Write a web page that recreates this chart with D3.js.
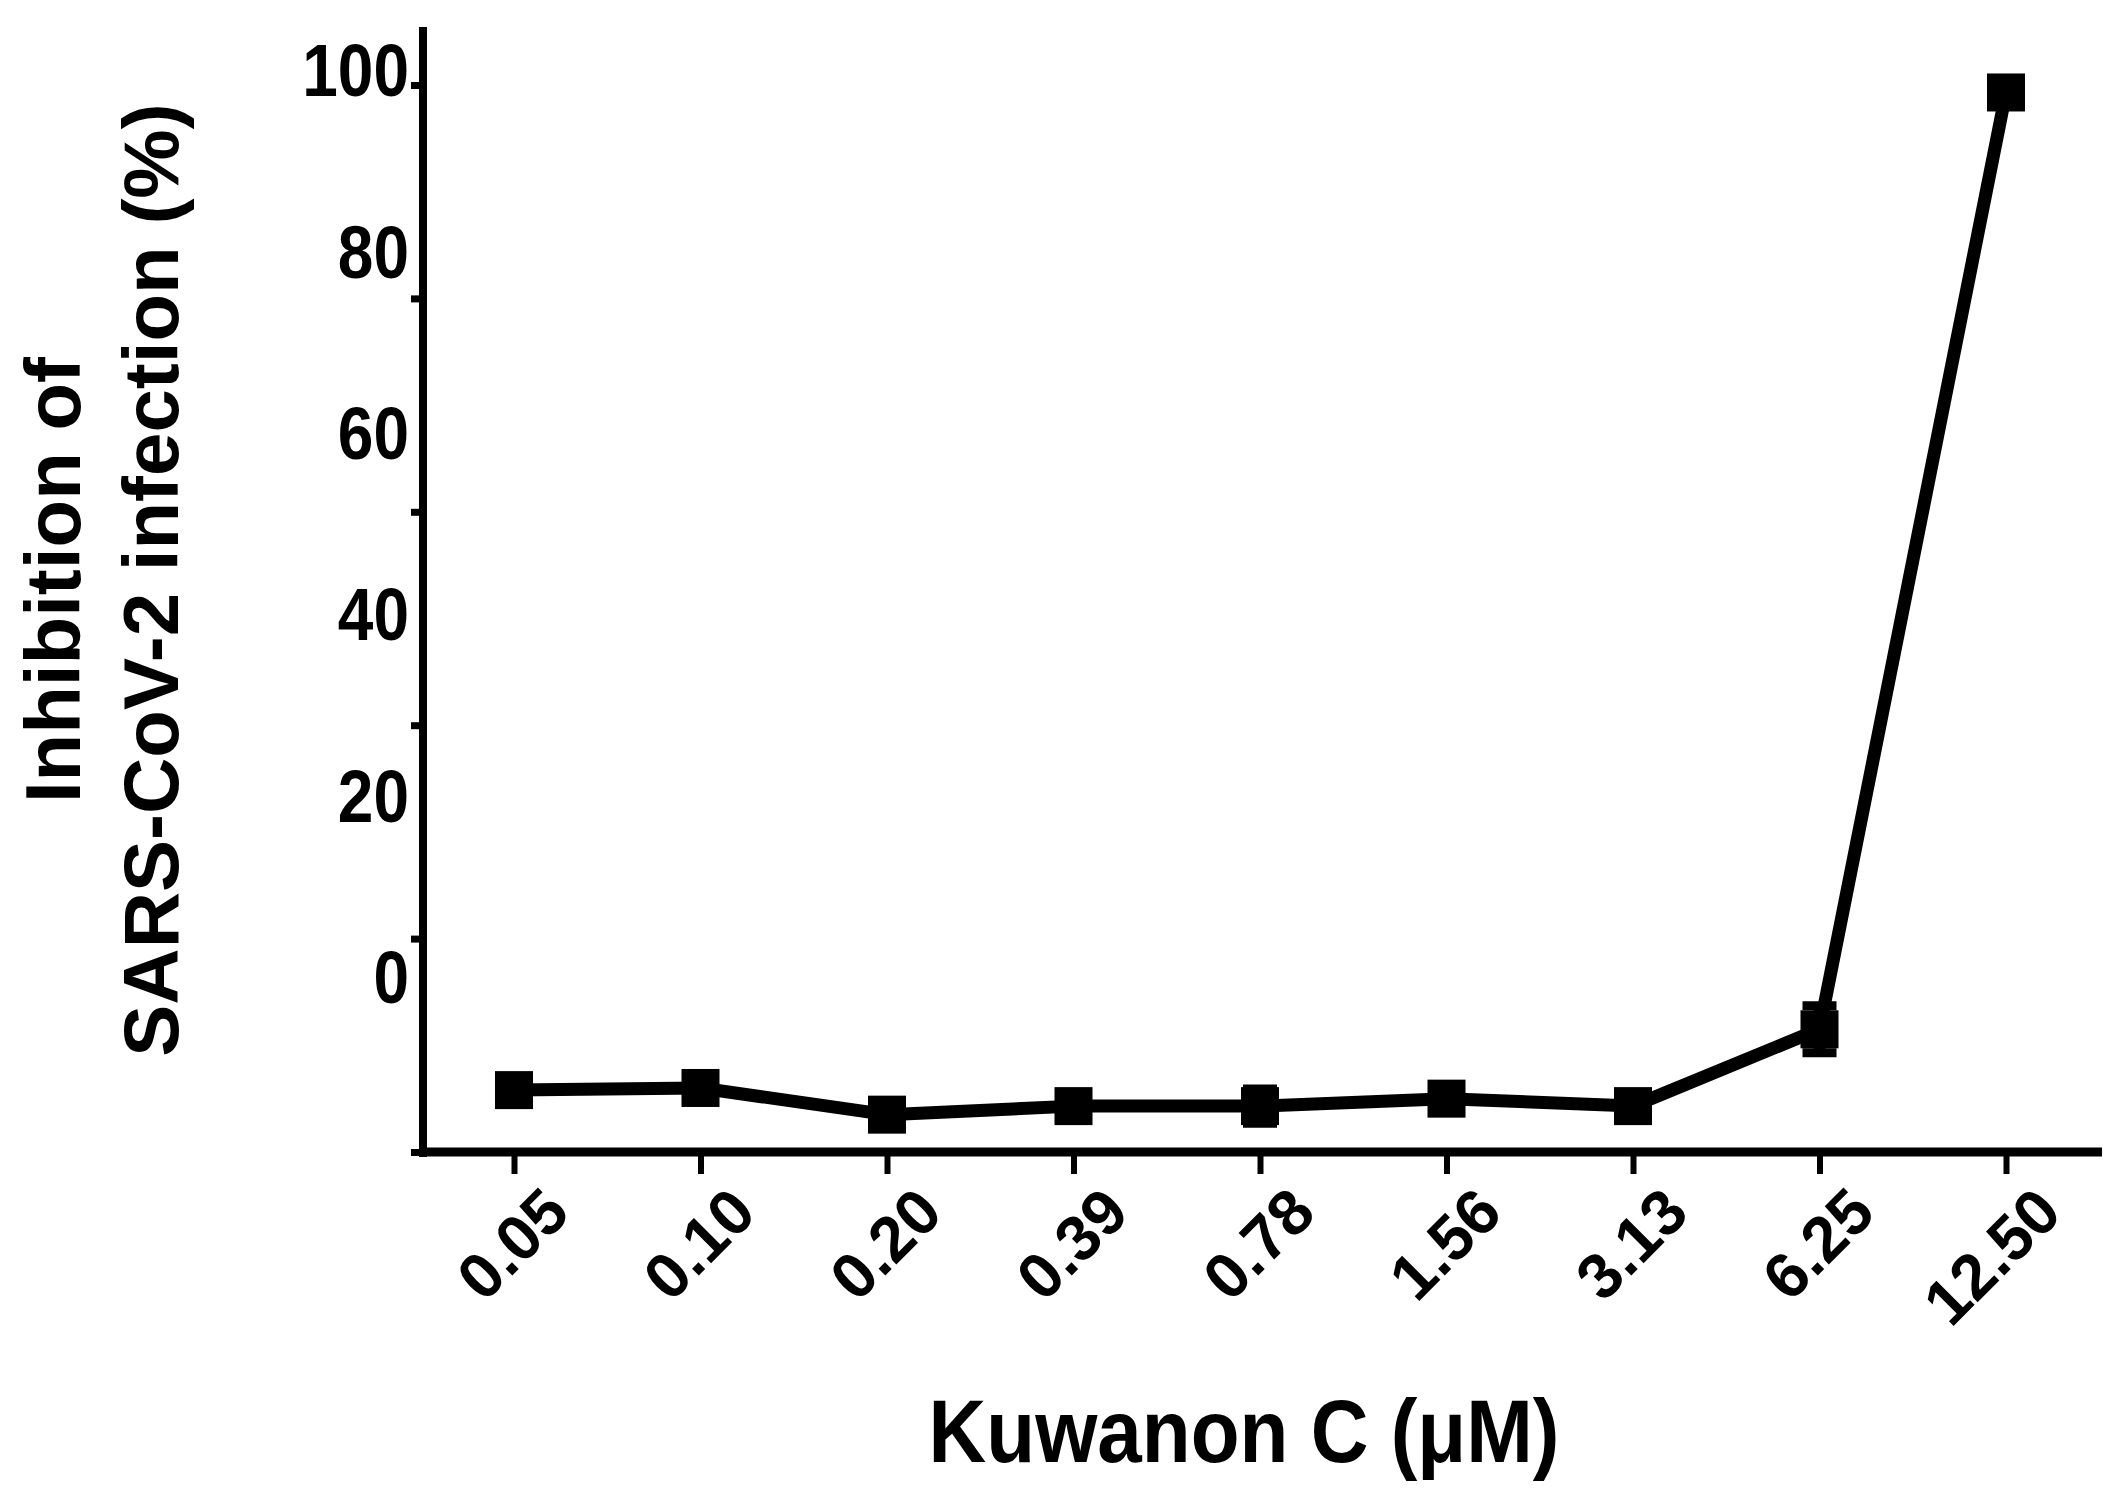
<!DOCTYPE html>
<html><head><meta charset="utf-8">
<script src="https://cdn.jsdelivr.net/npm/d3@7"></script>
<style>body{margin:0;background:#fff}</style></head>
<body><svg id="c" width="2120" height="1503"></svg>
<script>
const categories = ["0.05","0.10","0.20","0.39","0.78","1.56","3.13","6.25","12.50"];
const values = [5.8, 6.0, 3.5, 4.3, 4.3, 5.0, 4.3, 11.5, 99.3];
const errors = [0.5, 0.6, 0.6, 0.6, 1.6, 0.7, 0.6, 2.2, 0.5];
const yTicks = [0,20,40,60,80,100];

const svg = d3.select("#c");
const L=423, R=2102, T=27, B=1152;
const x = d3.scalePoint().domain(categories).range([514,2006]);
const y = d3.scaleLinear().domain([0,100]).range([B,85]);
const font = "Arial, 'Liberation Sans', sans-serif";

svg.append("line").attr("x1",L).attr("x2",L).attr("y1",T).attr("y2",B+5).attr("stroke","#000").attr("stroke-width",8);
svg.append("line").attr("x1",L-4).attr("x2",R).attr("y1",B).attr("y2",B).attr("stroke","#000").attr("stroke-width",9);

const ya = svg.append("g").attr("transform",`translate(${L},0)`)
  .call(d3.axisLeft(y).tickValues(yTicks).tickSize(12).tickPadding(2));
ya.select(".domain").remove();
ya.selectAll("line").attr("stroke-width",7).attr("x1",-4);
ya.selectAll("text").attr("font-family",font).attr("font-weight","bold").attr("font-size",64).attr("fill","#000")
  .attr("transform","scale(1,1.12)").attr("y",0).each(function(d){d3.select(this).attr("transform",`translate(0,${y(d)}) scale(1,1.15) translate(0,${-y(d)})`);});

const xa = svg.append("g").attr("transform",`translate(0,${B})`)
  .call(d3.axisBottom(x).tickSize(22).tickPadding(12));
xa.select(".domain").remove();
xa.selectAll("line").attr("stroke-width",6).attr("y1",4);
xa.selectAll("text").attr("font-family",font).attr("font-weight","bold").attr("font-size",64).attr("fill","#000")
  .attr("text-anchor","end").attr("dy","0.3em").attr("transform","translate(20,26) rotate(-45)");

svg.append("path").datum(values).attr("fill","none").attr("stroke","#000").attr("stroke-width",13)
  .attr("stroke-linejoin","round")
  .attr("d",d3.line().x((d,i)=>x(categories[i])).y(d=>y(d)));
const eg = svg.append("g");
values.forEach((v,i)=>{
  const cx=x(categories[i]);
  eg.append("line").attr("x1",cx).attr("x2",cx).attr("y1",y(v+errors[i])).attr("y2",y(v-errors[i])).attr("stroke","#000").attr("stroke-width",12);
  [v+errors[i],v-errors[i]].forEach(e=>eg.append("line").attr("x1",cx-17).attr("x2",cx+17).attr("y1",y(e)).attr("y2",y(e)).attr("stroke","#000").attr("stroke-width",9));
});
svg.append("g").selectAll("rect").data(values).join("rect")
  .attr("x",(d,i)=>x(categories[i])-19).attr("y",d=>y(d)-19).attr("width",38).attr("height",38).attr("fill","#000");

svg.append("text").attr("transform","translate(1244,1462) scale(1,1.12)").attr("text-anchor","middle")
  .attr("font-family",font).attr("font-weight","bold").attr("font-size",80).text("Kuwanon C (μM)");
const yt = svg.append("text").attr("transform","translate(0,580) rotate(-90)").attr("text-anchor","middle")
  .attr("font-family",font).attr("font-weight","bold").attr("font-size",78);
yt.append("tspan").attr("x",0).attr("y",80).text("Inhibition of");
yt.append("tspan").attr("x",0).attr("y",178).text("SARS-CoV-2 infection (%)");
</script></body></html>
